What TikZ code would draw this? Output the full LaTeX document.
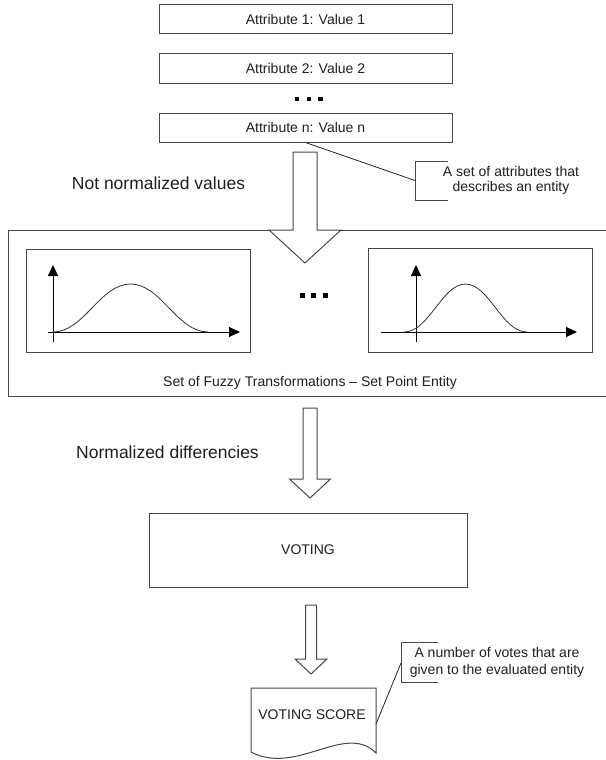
\documentclass[tikz,border=0pt]{standalone}
\usepackage{fontspec}
\setmainfont{Liberation Sans}
\usetikzlibrary{arrows.meta}
\begin{document}
\begin{tikzpicture}[x=1pt,y=-1pt,
  ln/.style={draw=black!72, line width=1pt},
  thinln/.style={draw=black!85, line width=0.8pt},
  abox/.style={ln, rectangle, inner sep=0pt, minimum width=293pt, minimum height=29pt,
    font=\fontsize{14}{16}\selectfont, text=black!88},
  small/.style={font=\fontsize{14}{15.5}\selectfont, text=black!88},
  big/.style={font=\fontsize{17.5}{20}\selectfont, text=black!88},
  fatarrow/.style={ln, fill=white, line join=miter},
  axis/.style={black, line width=0.9pt, -{Triangle[length=11pt,width=10pt]}},
  curve/.style={black!80, line width=0.8pt},
  sqdot/.style={rectangle, fill=black, draw=none, inner sep=0pt},
]
\useasboundingbox (0,0) rectangle (605,760);
\fill[white] (0,0) rectangle (605,760);

% attribute boxes
\node[abox] (a1) at (305.5,19.5) {Attribute 1: Value 1};
\node[abox] (a2) at (305.5,68.5) {Attribute 2: Value 2};
\node[abox] (an) at (305.5,127.5) {Attribute n: Value n};
\node[sqdot, minimum size=4.3pt] (d1) at (297,98.7) {};
\node[sqdot, minimum size=4.3pt] (d2) at (308.8,98.7) {};
\node[sqdot, minimum size=4.3pt] (d3) at (320.5,98.7) {};

% callout 1
\node[small, align=center] (c1) at (511,180.5) {A set of attributes that\\describes an entity};
\coordinate (c1p) at (415,180.5);
\draw[ln] (448,161) -- (415,161) -- (415,200) -- (448,200);
\draw[thinln] (an.south) -- (c1p);

% labels
\node[big] (l1) at (158.5,183) {Not normalized values};
\node[big] (l2) at (167.5,452) {Normalized differencies};

% fuzzy transformation set
\node[ln, rectangle, inner sep=0pt, minimum width=600pt, minimum height=166pt, anchor=north west] (fz) at (8,230) {};
\node[small] (cap) at (310,383) {Set of Fuzzy Transformations \textendash{} Set Point Entity};

% plot 1
\node[ln, rectangle, inner sep=0pt, minimum width=224pt, minimum height=103pt, anchor=north west] (p1) at (26,249) {};
\draw[axis] (53,342) -- (53,265);
\draw[axis] (48,332) -- (240,332);
\draw[curve] (53,332) .. controls (84,332) and (100,284) .. (130.5,284) .. controls (161,284) and (177,332) .. (208,332);

% plot 2
\node[ln, rectangle, inner sep=0pt, minimum width=224pt, minimum height=104pt, anchor=north west] (p2) at (368,248) {};
\draw[axis] (416,342) -- (416,265);
\draw[axis] (381,332) -- (577,332);
\draw[curve] (404,332) .. controls (429,332) and (442,284) .. (465.5,284) .. controls (489,284) and (502,332) .. (527,332);

% middle dots
\node[sqdot, minimum size=5pt] (m1) at (302,295) {};
\node[sqdot, minimum size=5pt] (m2) at (313.5,295) {};
\node[sqdot, minimum size=5pt] (m3) at (325,295) {};

% fat arrow 1 (attributes -> fuzzy set)
\draw[fatarrow] (293,152) -- (317,152) -- (317,230) -- (341,230) -- (305,263) -- (269,230) -- (293,230) -- cycle;

% fat arrow 2 (fuzzy set -> voting)
\draw[fatarrow] (303,408) -- (317,408) -- (317,479) -- (330.5,479) -- (310,498) -- (289.5,479) -- (303,479) -- cycle;

% voting box
\node[ln, rectangle, inner sep=0pt, minimum width=318pt, minimum height=74pt, small] (vt) at (308,550) {VOTING};

% fat arrow 3 (voting -> score)
\draw[fatarrow] (305.5,605) -- (316.5,605) -- (316.5,659) -- (327,659) -- (311,674) -- (295,659) -- (305.5,659) -- cycle;

% voting score document
\draw[ln, line join=miter] (251,752) -- (251,688) -- (376,688) -- (376,753)
  .. controls (345,722) and (297,776) .. (251,752) -- cycle;
\node[small] (vs) at (312,715) {VOTING SCORE};
\coordinate (vsr) at (376,724);

% callout 2
\node[small, align=center, font=\fontsize{14}{16.7}\selectfont] (c2) at (497,662.5) {A number of votes that are\\given to the evaluated entity};
\coordinate (c2p) at (401,663);
\draw[ln] (438,642) -- (401,642) -- (401,682) -- (438,682);
\draw[thinln] (vsr) -- (c2p);
\end{tikzpicture}
\end{document}
